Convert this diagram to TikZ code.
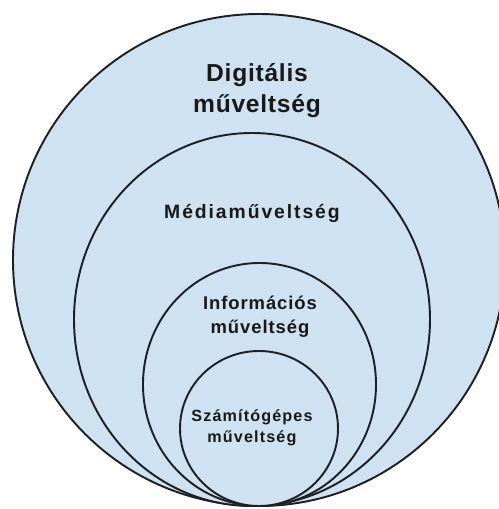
\documentclass[tikz,border=0pt]{standalone}
\usepackage{fontspec}
\setmainfont{Liberation Sans}
\usepackage{xcolor}
\usetikzlibrary{positioning}

\definecolor{ringfill}{RGB}{207,226,241}
\definecolor{ringline}{RGB}{30,32,36}
\definecolor{ringtext}{RGB}{25,25,25}

\begin{document}
\begin{tikzpicture}[
    ring/.style={fill=ringfill, draw=ringline, line width=1.1pt},
    lbl/.style={text=ringtext, font=\bfseries, align=center, inner sep=0pt}
  ]
  % all rings touch at the bottom, y = 0.06
  \useasboundingbox (0,0) rectangle (9.98,10.18);
  \clip (0,0) rectangle (9.98,10.18);

  \draw[ring] (5.18,4.98) circle (4.92);
  \draw[ring] (5.04,3.79) ellipse (3.56 and 3.73);
  \draw[ring] (5.19,2.49) ellipse (2.33 and 2.43);
  \draw[ring] (5.18,1.61) ellipse (1.58 and 1.55);

  \node[lbl, font=\bfseries\fontsize{14}{17.6}\selectfont\addfontfeatures{LetterSpace=3}]
    (digital) at (5.14,8.36) {Digitális\\műveltség};
  \node[lbl, anchor=base, font=\bfseries\fontsize{11}{13}\selectfont\addfontfeatures{LetterSpace=10}]
    (media) at (5.04,5.80) {Médiaműveltség};
  \node[lbl, font=\bfseries\fontsize{10.5}{13.6}\selectfont\addfontfeatures{LetterSpace=5}]
    (info) at (5.20,3.85) {Információs\\műveltség};
  \node[lbl, font=\bfseries\fontsize{9.2}{12}\selectfont\addfontfeatures{LetterSpace=7}]
    (computer) at (5.04,1.63) {Számítógépes\\műveltség};
\end{tikzpicture}
\end{document}
